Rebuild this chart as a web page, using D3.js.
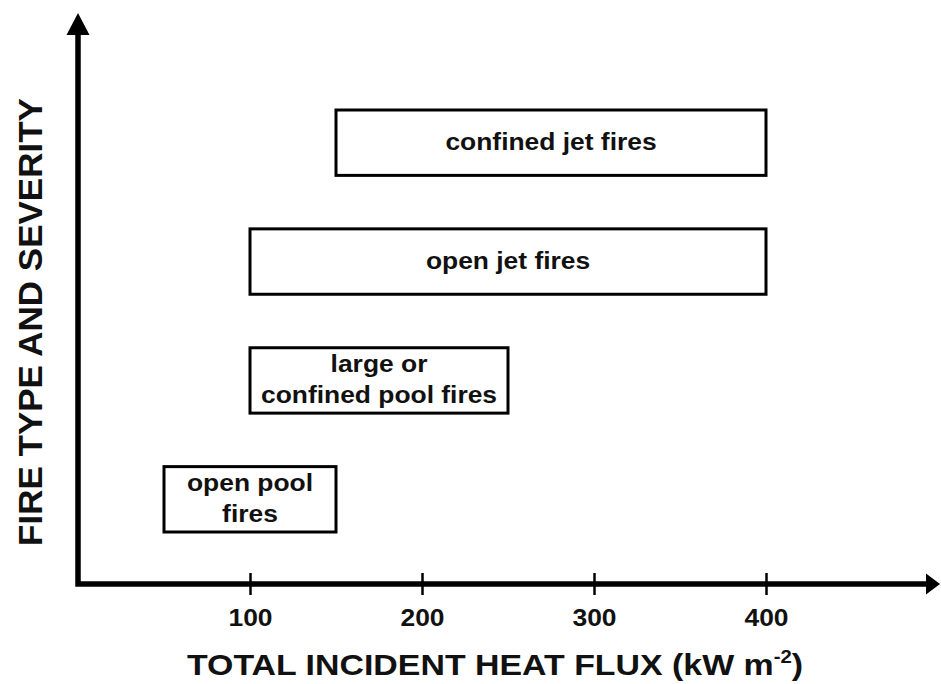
<!DOCTYPE html>
<html>
<head>
<meta charset="utf-8">
<script src="https://cdn.jsdelivr.net/npm/d3@7"></script>
<style>
  html, body { margin: 0; padding: 0; background: #fff; }
  svg { display: block; }
  text { font-family: "Liberation Sans", Arial, Helvetica, sans-serif; font-weight: bold; fill: #111; }
</style>
</head>
<body>
<svg id="chart" width="941" height="684"></svg>
<script>
// ---- data ----
const categories = ["open pool fires", "large or confined pool fires", "open jet fires", "confined jet fires"];
const labelLines = [["open pool", "fires"], ["large or", "confined pool fires"], ["open jet fires"], ["confined jet fires"]];
const fluxMin = [50, 100, 100, 150];   // kW m-2
const fluxMax = [150, 250, 400, 400];  // kW m-2
const tickValues = [100, 200, 300, 400];
const xTitle = "TOTAL INCIDENT HEAT FLUX (kW m";
const xTitleSup = "-2";
const yTitle = "FIRE TYPE AND SEVERITY";

// ---- layout ----
const svg = d3.select("#chart");
const originX = 78, originY = 584;
const x = d3.scaleLinear().domain([0, 400]).range([originX, 766]);
const y = d3.scaleBand().domain(categories).range([532, 110]).paddingInner(0.45).paddingOuter(0);
const stretch = 1.1;

// axes lines with arrows
const axisW = 5.5;
svg.append("path")
  .attr("d", `M${originX},34 V${originY} H928`)
  .attr("fill", "none").attr("stroke", "#000").attr("stroke-width", axisW)
  .attr("stroke-linejoin", "miter");
svg.append("path")
  .attr("d", `M${originX},13 L${originX + 11.5},35 L${originX - 11.5},35 Z`)
  .attr("fill", "#000");
svg.append("path")
  .attr("d", `M940,${originY} L926,${originY - 10.5} L926,${originY + 10.5} Z`)
  .attr("fill", "#000");

// x axis ticks via d3 axis
const xAxis = d3.axisBottom(x).tickValues(tickValues).tickSize(22).tickPadding(14).tickFormat(d3.format("d"));
const gx = svg.append("g").attr("transform", `translate(0,${originY - 11})`).call(xAxis);
gx.select(".domain").remove();
gx.selectAll(".tick line").attr("stroke", "#000").attr("stroke-width", 2.5);
gx.selectAll(".tick text")
  .attr("font-size", 24).attr("fill", "#111")
  .style("font-family", '"Liberation Sans", Arial, sans-serif').style("font-weight", "bold")
  .attr("transform", `scale(${stretch},1)`);

// boxes
const rows = categories.map((c, i) => ({ c, lines: labelLines[i], lo: fluxMin[i], hi: fluxMax[i] }));
const g = svg.append("g");
g.selectAll("rect").data(rows).join("rect")
  .attr("x", d => x(d.lo)).attr("width", d => x(d.hi) - x(d.lo))
  .attr("y", d => y(d.c)).attr("height", y.bandwidth())
  .attr("fill", "#fff").attr("stroke", "#000").attr("stroke-width", 3);

const lh = 31.5;
rows.forEach(d => {
  const cx = (x(d.lo) + x(d.hi)) / 2;
  const cy = y(d.c) + y.bandwidth() / 2;
  d.lines.forEach((ln, i) => {
    const by = cy + (i - (d.lines.length - 1) / 2) * lh + 7.2;
    g.append("text")
      .attr("transform", `translate(${cx},${by}) scale(${stretch},1)`)
      .attr("text-anchor", "middle").attr("font-size", 24)
      .text(ln);
  });
});

// x title
const xt = svg.append("text")
  .attr("transform", `translate(495,675) scale(1.13,1)`)
  .attr("text-anchor", "middle").attr("font-size", 30);
xt.append("tspan").text(xTitle);
xt.append("tspan").attr("font-size", 18).attr("dy", -12).text(xTitleSup);
xt.append("tspan").attr("dy", 12).text(")");

// y title
svg.append("text")
  .attr("transform", `translate(42,322) rotate(-90) scale(1.0,0.95)`)
  .attr("text-anchor", "middle").attr("font-size", 35)
  .text(yTitle);
</script>
</body>
</html>
